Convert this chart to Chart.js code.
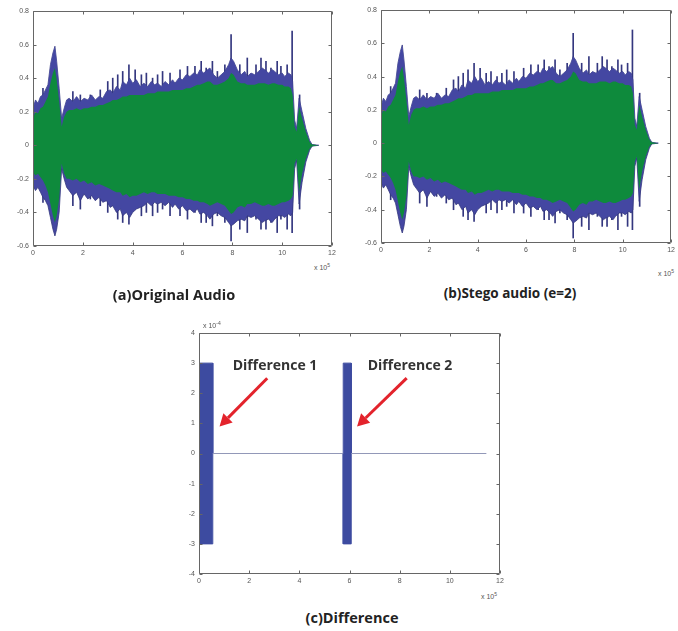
<!DOCTYPE html>
<html>
<head>
<meta charset="utf-8">
<script src="https://cdn.jsdelivr.net/npm/chart.js@4.4.1/dist/chart.umd.min.js"></script>
<style>
  body { margin: 0; background: #fff; }
  #wrap { position: relative; width: 678px; height: 631px; overflow: hidden; }
  canvas { position: absolute; }
  .cap { position: absolute; font-family: "Open Sans", sans-serif; font-weight: bold; color: #222; white-space: nowrap; transform: translateX(-50%); line-height: 16px; }
  .note { position: absolute; font: bold 14px "Open Sans", sans-serif; color: #333; white-space: nowrap; transform: translateX(-50%); line-height: 16px; }
  .exp { position: absolute; font: 7px "Liberation Sans", sans-serif; color: #555; white-space: nowrap; }
  .exp sup { font-size: 5px; }
</style>
</head>
<body>
<div id="wrap">
  <canvas id="chart-original" width="340" height="262" style="left:0;top:0"></canvas>
  <canvas id="chart-stego" width="330" height="262" style="left:348px;top:0"></canvas>
  <canvas id="chart-diff" width="342" height="272" style="left:166px;top:318px"></canvas>

  <div class="exp" style="left:314px;top:262px">x 10<sup>5</sup></div>
  <div class="exp" style="left:658px;top:268px">x 10<sup>5</sup></div>
  <div class="exp" style="left:481px;top:591px">x 10<sup>5</sup></div>
  <div class="exp" style="left:203px;top:320px">x 10<sup>-4</sup></div>

  <div class="cap" style="left:174px;top:287px;font-size:14.5px">(a)Original Audio</div>
  <div class="cap" style="left:510px;top:285px;font-size:13.5px">(b)Stego audio (e=2)</div>
  <div class="cap" style="left:352px;top:610px;font-size:14.5px">(c)Difference</div>
  <div class="note" style="left:275px;top:357px">Difference 1</div>
  <div class="note" style="left:410px;top:357px">Difference 2</div>
</div>

<script>
// sample index (x 10^5) and waveform envelopes
const timeX = [0, 0.1, 0.2, 0.3, 0.4, 0.5, 0.6, 0.7, 0.8, 0.88, 0.95, 1.05, 1.15, 1.25, 1.35, 1.45,
  1.6, 1.75, 1.9, 2.05, 2.2, 2.35, 2.5, 2.65, 2.8, 2.95, 3.1, 3.2, 3.35, 3.5, 3.6, 3.75, 3.88,
  4.0, 4.15, 4.3, 4.45, 4.6, 4.75, 4.88, 5.0, 5.15, 5.3, 5.45, 5.6, 5.7, 5.85, 6.0, 6.15, 6.3,
  6.45, 6.6, 6.7, 6.85, 7.0, 7.1, 7.25, 7.4, 7.55, 7.7, 7.85, 7.95, 8.05, 8.2, 8.35, 8.5, 8.6,
  8.75, 8.9, 9.05, 9.2, 9.3, 9.45, 9.6, 9.7, 9.85, 10.0, 10.1, 10.25, 10.35, 10.42, 10.5, 10.58,
  10.68, 10.8, 10.95, 11.1, 11.2, 11.47];

const blueTop = [0.22, 0.27, 0.25, 0.29, 0.30, 0.33, 0.36, 0.48, 0.55, 0.59, 0.50, 0.34, 0.16, 0.22, 0.27, 0.28,
  0.26, 0.29, 0.26, 0.28, 0.27, 0.30, 0.27, 0.29, 0.28, 0.32, 0.33, 0.31, 0.35, 0.33, 0.38, 0.36, 0.40,
  0.37, 0.39, 0.35, 0.37, 0.35, 0.38, 0.36, 0.37, 0.35, 0.38, 0.36, 0.39, 0.37, 0.40, 0.39, 0.42, 0.41,
  0.43, 0.42, 0.45, 0.43, 0.45, 0.46, 0.42, 0.40, 0.42, 0.44, 0.48, 0.52, 0.50, 0.45, 0.42, 0.44, 0.41,
  0.43, 0.42, 0.44, 0.46, 0.45, 0.43, 0.45, 0.44, 0.42, 0.43, 0.41, 0.43, 0.42, 0.38, 0.15, 0.10,
  0.28, 0.20, 0.10, 0.03, 0.005, 0];

const greenTop = [0.16, 0.20, 0.19, 0.22, 0.23, 0.26, 0.29, 0.37, 0.43, 0.46, 0.39, 0.26, 0.11, 0.17, 0.20, 0.21,
  0.21, 0.22, 0.21, 0.22, 0.22, 0.23, 0.23, 0.24, 0.24, 0.25, 0.26, 0.27, 0.27, 0.28, 0.29, 0.29, 0.30,
  0.30, 0.30, 0.30, 0.30, 0.31, 0.31, 0.31, 0.32, 0.32, 0.32, 0.32, 0.33, 0.33, 0.33, 0.33, 0.34, 0.34,
  0.35, 0.36, 0.36, 0.37, 0.38, 0.38, 0.36, 0.36, 0.37, 0.38, 0.40, 0.43, 0.42, 0.38, 0.37, 0.37, 0.36,
  0.36, 0.36, 0.37, 0.37, 0.37, 0.36, 0.37, 0.37, 0.36, 0.36, 0.35, 0.35, 0.34, 0.30, 0.11, 0.08,
  0.23, 0.16, 0.08, 0.02, 0.005, 0];

const greenBot = [-0.16, -0.18, -0.17, -0.19, -0.21, -0.24, -0.28, -0.35, -0.42, -0.46, -0.42, -0.32, -0.11, -0.17, -0.20, -0.20,
  -0.21, -0.20, -0.22, -0.21, -0.23, -0.22, -0.24, -0.23, -0.24, -0.25, -0.26, -0.27, -0.28, -0.28, -0.30, -0.29, -0.31,
  -0.30, -0.30, -0.29, -0.28, -0.29, -0.28, -0.28, -0.29, -0.29, -0.29, -0.30, -0.30, -0.30, -0.31, -0.31, -0.32, -0.32,
  -0.33, -0.33, -0.34, -0.34, -0.35, -0.36, -0.35, -0.34, -0.35, -0.36, -0.39, -0.41, -0.40, -0.37, -0.36, -0.37, -0.35,
  -0.35, -0.34, -0.35, -0.36, -0.36, -0.35, -0.36, -0.36, -0.35, -0.34, -0.34, -0.33, -0.32, -0.30, -0.11, -0.08,
  -0.28, -0.17, -0.08, -0.02, -0.005, 0];

const blueBot = [-0.24, -0.27, -0.25, -0.28, -0.31, -0.33, -0.36, -0.43, -0.50, -0.54, -0.50, -0.40, -0.14, -0.20, -0.25, -0.27,
  -0.30, -0.28, -0.33, -0.29, -0.32, -0.30, -0.33, -0.31, -0.34, -0.33, -0.37, -0.36, -0.40, -0.38, -0.42, -0.40, -0.43,
  -0.40, -0.38, -0.37, -0.36, -0.34, -0.36, -0.34, -0.35, -0.34, -0.36, -0.34, -0.37, -0.35, -0.38, -0.36, -0.39, -0.38,
  -0.40, -0.38, -0.41, -0.40, -0.42, -0.44, -0.41, -0.40, -0.42, -0.43, -0.46, -0.48, -0.47, -0.45, -0.44, -0.45, -0.42,
  -0.43, -0.42, -0.44, -0.46, -0.45, -0.44, -0.46, -0.44, -0.42, -0.42, -0.43, -0.41, -0.42, -0.40, -0.14, -0.09,
  -0.35, -0.22, -0.10, -0.03, -0.005, 0];

// isolated peaks that stick out of the envelope
const peakX  = [0.4, 1.6, 1.9, 2.3, 2.7, 3.0, 3.2, 3.4, 3.6, 3.85, 4.1, 4.35, 4.55, 4.8, 5.0, 5.2, 5.5, 5.9,
  6.2, 6.5, 6.75, 6.95, 7.2, 7.4, 7.7, 7.95, 8.3, 8.6, 8.95, 9.15, 9.35, 9.55, 9.8, 9.95, 10.2, 10.4, 10.7];
const peakHi = [0.34, 0.32, 0.30, 0.30, 0.33, 0.38, 0.40, 0.42, 0.44, 0.48, 0.45, 0.42, 0.43, 0.40, 0.42, 0.44, 0.43, 0.45,
  0.47, 0.47, 0.50, 0.46, 0.50, 0.44, 0.48, 0.66, 0.48, 0.52, 0.48, 0.52, 0.50, 0.46, 0.50, 0.47, 0.48, 0.68, 0.30];
const peakLo = [-0.34, -0.36, -0.38, -0.32, -0.36, -0.40, -0.36, -0.44, -0.46, -0.47, -0.38, -0.42, -0.40, -0.42, -0.40, -0.38, -0.42, -0.42,
  -0.44, -0.40, -0.46, -0.46, -0.48, -0.42, -0.46, -0.57, -0.50, -0.52, -0.44, -0.50, -0.50, -0.46, -0.52, -0.44, -0.50, -0.52, -0.38];

// difference signal (x 10^-4)
const diffX  = [0, 0.55, 0.55, 5.75, 5.75, 6.07, 6.07, 11.45];
const diffHi = [3, 3, 0, 0, 3, 3, 0, 0];
const diffLo = [-3, -3, 0, 0, -3, -3, 0, 0];

// tick values
const sampleTicks = [0, 2, 4, 6, 8, 10, 12];
const ampTicks = [-0.6, -0.4, -0.2, 0, 0.2, 0.4, 0.6, 0.8];
const diffTicks = [-4, -3, -2, -1, 0, 1, 2, 3, 4];

const BLUE = "#4447a2";
const BLUE_EDGE = "#34377f";
const GREEN = "#0e8a3c";
const AXIS = "#666";
const TICK_FONT = { family: "Liberation Sans", size: 7 };
const TICK_COLOR = "#555";

const pts = (xs, ys) => xs.map((x, i) => ({ x, y: ys[i] }));

// matlab style box with inward ticks
const boxPlugin = {
  id: "box",
  afterDatasetsDraw(chart) {
    const { ctx, chartArea: a, scales } = chart;
    const l = Math.round(a.left) + 0.5, r = Math.round(a.right) - 0.5;
    const t = Math.round(a.top) + 0.5, b = Math.round(a.bottom) - 0.5;
    ctx.save();
    ctx.strokeStyle = AXIS;
    ctx.lineWidth = 1;
    ctx.beginPath();
    ctx.moveTo(l, t); ctx.lineTo(r, t); ctx.lineTo(r, b); ctx.lineTo(l, b); ctx.closePath();
    scales.x.ticks.forEach((tk) => {
      const px = Math.round(scales.x.getPixelForValue(tk.value)) + 0.5;
      ctx.moveTo(px, b); ctx.lineTo(px, b - 3);
      ctx.moveTo(px, t); ctx.lineTo(px, t + 3);
    });
    scales.y.ticks.forEach((tk) => {
      const py = Math.round(scales.y.getPixelForValue(tk.value)) + 0.5;
      ctx.moveTo(l, py); ctx.lineTo(l + 3, py);
      ctx.moveTo(r, py); ctx.lineTo(r - 3, py);
    });
    ctx.stroke();
    ctx.restore();
  },
};

// red arrows pointing at the difference blocks
const arrowPlugin = {
  id: "arrows",
  afterDatasetsDraw(chart, args, opts) {
    const { ctx, scales: { x, y } } = chart;
    ctx.save();
    ctx.strokeStyle = "#e3232c";
    ctx.fillStyle = "#e3232c";
    ctx.lineWidth = 3;
    (opts.list || []).forEach((ar) => {
      const x0 = x.getPixelForValue(ar.from[0]), y0 = y.getPixelForValue(ar.from[1]);
      const x1 = x.getPixelForValue(ar.to[0]), y1 = y.getPixelForValue(ar.to[1]);
      const ang = Math.atan2(y1 - y0, x1 - x0);
      const head = 12;
      const bx = x1 - head * Math.cos(ang), by = y1 - head * Math.sin(ang);
      ctx.beginPath();
      ctx.moveTo(x0, y0);
      ctx.lineTo(bx, by);
      ctx.stroke();
      ctx.beginPath();
      ctx.moveTo(x1, y1);
      ctx.lineTo(bx + 6.5 * Math.sin(ang), by - 6.5 * Math.cos(ang));
      ctx.lineTo(bx - 6.5 * Math.sin(ang), by + 6.5 * Math.cos(ang));
      ctx.closePath();
      ctx.fill();
    });
    ctx.restore();
  },
};

function axisX(height) {
  return {
    type: "linear", min: 0, max: 12, offset: false,
    grid: { display: false, drawTicks: false }, border: { display: false },
    afterBuildTicks: (s) => { s.ticks = sampleTicks.map((v) => ({ value: v })); },
    afterFit: (s) => { s.height = height; },
    ticks: { font: TICK_FONT, color: TICK_COLOR, padding: 3, maxRotation: 0, autoSkip: false },
  };
}

function axisY(min, max, values, fmt) {
  return {
    type: "linear", min, max,
    grid: { display: false, drawTicks: false }, border: { display: false },
    afterBuildTicks: (s) => { s.ticks = values.map((v) => ({ value: v })); },
    afterFit: (s) => { s.width = 33; },
    ticks: { font: TICK_FONT, color: TICK_COLOR, padding: 4, callback: fmt },
  };
}

const ampLabel = (v) => (Math.abs(v) < 1e-9 ? "0" : v.toFixed(1));

function waveChart(id, pad) {
  return new Chart(document.getElementById(id), {
    type: "line",
    data: {
      datasets: [
        { data: pts(timeX, greenTop), borderWidth: 0, pointRadius: 0, order: 2 },
        { data: pts(timeX, greenBot), borderWidth: 0, pointRadius: 0, fill: "-1", backgroundColor: GREEN, order: 1 },
        { data: pts(timeX, blueTop), borderColor: BLUE_EDGE, borderWidth: 0.8, pointRadius: 0, order: 4 },
        { data: pts(timeX, blueBot), borderColor: BLUE_EDGE, borderWidth: 0.8, pointRadius: 0, fill: "-1", backgroundColor: BLUE, order: 3 },
        {
          type: "bar",
          data: peakX.map((x, i) => ({ x, y: [peakLo[i], peakHi[i]] })),
          backgroundColor: BLUE_EDGE, barThickness: 1, order: 5,
        },
      ],
    },
    options: {
      responsive: false, animation: false, events: [],
      elements: { line: { tension: 0 } },
      layout: { padding: { left: 0, top: pad.top, right: pad.right, bottom: 0 } },
      plugins: { legend: { display: false }, tooltip: { enabled: false } },
      scales: { x: axisX(pad.xh), y: axisY(-0.6, 0.8, ampTicks, ampLabel) },
    },
    plugins: [boxPlugin],
  });
}

waveChart("chart-original", { top: 11, right: 8, xh: 16 });
waveChart("chart-stego", { top: 10, right: 3, xh: 19 });

const diffEdge = (c) => (c.p0.parsed.y === 0 && c.p1.parsed.y === 0 ? "#9298b8" : "#3d4ba0");

new Chart(document.getElementById("chart-diff"), {
  type: "line",
  data: {
    datasets: [
      { data: pts(diffX, diffHi), pointRadius: 0, borderWidth: 1, borderColor: "#3d4ba0", segment: { borderColor: diffEdge } },
      { data: pts(diffX, diffLo), pointRadius: 0, borderWidth: 1, borderColor: "#3d4ba0", fill: "-1", backgroundColor: "#3d4ba0",
        segment: { borderColor: diffEdge } },
    ],
  },
  options: {
    responsive: false, animation: false, events: [],
    elements: { line: { tension: 0 } },
    layout: { padding: { left: 0, top: 15, right: 8, bottom: 0 } },
    plugins: {
      legend: { display: false }, tooltip: { enabled: false },
      arrows: { list: [
        { from: [2.72, 2.5], to: [0.82, 0.9] },
        { from: [8.28, 2.5], to: [6.3, 0.9] },
      ] },
    },
    scales: { x: axisX(16), y: axisY(-4, 4, diffTicks, (v) => String(v)) },
  },
  plugins: [boxPlugin, arrowPlugin],
});
</script>
</body>
</html>
